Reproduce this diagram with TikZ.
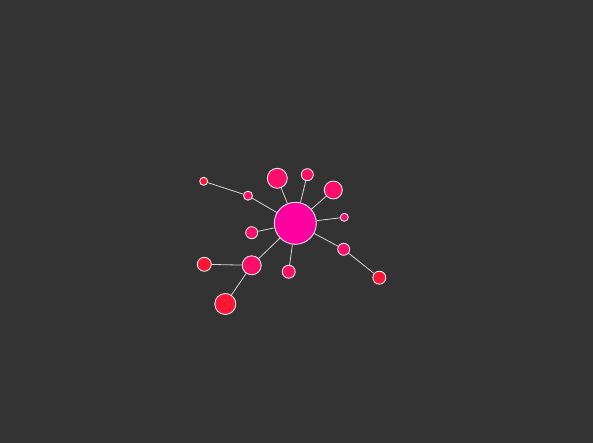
\documentclass[tikz,border=0pt]{standalone}
\definecolor{bg}{HTML}{333333}
\definecolor{hub}{HTML}{FF00A0}
\definecolor{mid}{HTML}{FF0D6B}
\definecolor{leaf}{HTML}{FF1535}
\tikzset{dot/.style={circle,draw=white,line width=.8pt,inner sep=0pt},
  link/.style={draw=white!80!bg,line width=.8pt}}
\begin{document}
\begin{tikzpicture}[x=1pt,y=-1pt]
      \fill[bg] (0,0) rectangle (593,443);
      \node[dot,fill=hub,minimum size=42pt] (c) at (295.3,223.3) {};
      \node[dot,fill=mid,minimum size=20pt] (tl) at (277.3,178.3) {};
      \node[dot,fill=mid,minimum size=12pt] (t) at (307.3,174.7) {};
      \node[dot,fill=mid,minimum size=18pt] (tr) at (333.3,190) {};
      \node[dot,fill=mid,minimum size=8pt] (r) at (344.3,217.3) {};
      \node[dot,fill=mid,minimum size=12pt] (br) at (343.7,249.3) {};
      \node[dot,fill=mid,minimum size=13pt] (b) at (288.7,271.7) {};
      \node[dot,fill=mid,minimum size=12pt] (l) at (251.7,232.7) {};
      \node[dot,fill=mid,minimum size=19pt] (bl) at (251.7,265.3) {};
      \node[dot,fill=mid,minimum size=9pt] (ul) at (248,195.7) {};
      % outer ring
      \node[dot,fill=leaf,minimum size=8pt] (ul2) at (203.7,181.3) {};
      \node[dot,fill=leaf,minimum size=14pt] (l2) at (204.3,264.3) {};
      \node[dot,fill=leaf,minimum size=21pt] (bl2) at (225.3,304) {};
      \node[dot,fill=leaf,minimum size=13pt] (br2) at (379.3,277.7) {};
      \foreach \n in {tl,t,tr,r,br,b,l,bl,ul} \draw[link] (c) -- (\n);
      \draw[link] (ul) -- (ul2); \draw[link] (bl) -- (l2);
      \draw[link] (bl) -- (bl2); \draw[link] (br) -- (br2);
    \end{tikzpicture}
\end{document}
